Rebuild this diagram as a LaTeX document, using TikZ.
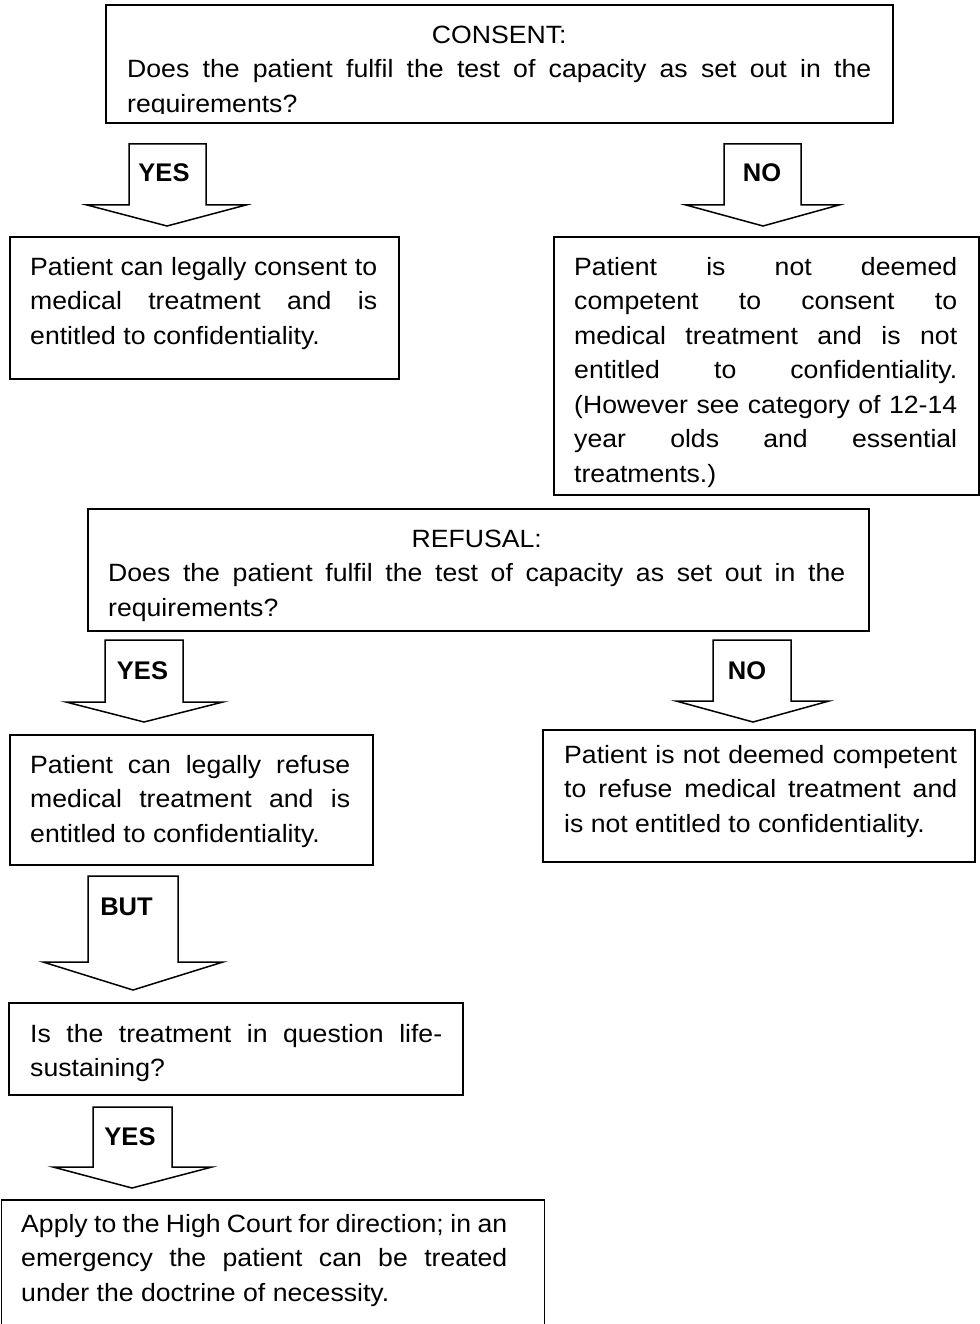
\documentclass[tikz,border=0pt]{standalone}
\usepackage{fontspec}
\setmainfont{Liberation Sans}[FakeStretch=1.065, Ligatures=NoCommon]
\newfontfamily\lblfont{Liberation Sans}[Ligatures=NoCommon]
\usetikzlibrary{calc}
\newcommand\Jl[2]{\makebox[#1pt][s]{#2}}
\newcommand\Cl[2]{\makebox[#1pt][c]{#2}}
\newcommand\Ll[2]{\makebox[#1pt][l]{#2}}
\tikzset{
  frame/.style={draw=black, line width=1.8pt, rectangle, inner sep=0pt, anchor=north west},
  body/.style={inner sep=0pt, anchor=north west, align=left, font=\fontsize{25}{34.5}\selectfont},
  barrow/.style={draw=black, line width=1.5pt, fill=white, line join=miter},
  blabel/.style={inner sep=0pt, anchor=base, font=\lblfont\fontsize{25.5}{30}\selectfont\bfseries},
}
\newcommand\blockarrow[8]{% sL sR top sb wL wR tipx tipy
  \draw[barrow] (#1,#3) -- (#2,#3) -- (#2,#4) -- (#6,#4) -- (#7,#8) -- (#5,#4) -- (#1,#4) -- cycle;}
\begin{document}
\begin{tikzpicture}[x=1pt,y=-1pt]
\useasboundingbox (0,0) rectangle (979,1324);
\fill[white] (0,0) rectangle (979,1324);

% ---------- CONSENT ----------
\node[frame, minimum width=787pt, minimum height=118pt] (b1) at (105,4) {};
\begin{scope}
\clip (105,4) rectangle (892,114);
\node[body] (b1t) at ($(b1.north west)+(22,14.85)$) {%
\Cl{744}{\strut CONSENT:}\\
\Jl{744}{Does the patient fulfil the test of capacity as set out in the}\\
\Ll{744}{requirements?}};
\end{scope}

\blockarrow{129}{206}{144}{205}{87}{246}{167}{226}
\node[blabel] (yes1) at (164,182) {YES};
\blockarrow{724}{801}{144}{205}{686}{839}{763}{226}
\node[blabel] (no1) at (762,182) {NO};

\node[frame, minimum width=389pt, minimum height=142pt] (b2) at (9,236) {};
\node[body] (b2t) at ($(b2.north west)+(21,14.85)$) {%
\Jl{347}{\strut Patient can legally consent to}\\
\Jl{347}{medical treatment and is}\\
\Ll{347}{entitled to confidentiality.}};

\node[frame, minimum width=425pt, minimum height=258pt] (b3) at (553,236) {};
\node[body] (b3t) at ($(b3.north west)+(21,14.85)$) {%
\Jl{383}{\strut Patient is not deemed}\\
\Jl{383}{competent to consent to}\\
\Jl{383}{medical treatment and is not}\\
\Jl{383}{entitled to confidentiality.}\\
\Jl{383}{(However see category of 12-14}\\
\Jl{383}{year olds and essential}\\
\Ll{383}{treatments.)}};

% ---------- REFUSAL ----------
\node[frame, minimum width=781pt, minimum height=122pt] (b4) at (87,508) {};
\node[body] (b4t) at ($(b4.north west)+(21,14.85)$) {%
\Cl{737}{\strut REFUSAL:}\\
\Jl{737}{Does the patient fulfil the test of capacity as set out in the}\\
\Ll{737}{requirements?}};

\blockarrow{105}{183}{640}{702}{66}{223}{144}{722}
\node[blabel] (yes2) at (142.5,679) {YES};
\blockarrow{713}{791}{640}{701}{676}{829}{753}{722}
\node[blabel] (no2) at (747,679) {NO};

\node[frame, minimum width=363pt, minimum height=130pt] (b5) at (9,734) {};
\node[body] (b5t) at ($(b5.north west)+(21,14.85)$) {%
\Jl{320}{\strut Patient can legally refuse}\\
\Jl{320}{medical treatment and is}\\
\Ll{320}{entitled to confidentiality.}};

\node[frame, minimum width=432pt, minimum height=132pt] (b6) at (542,729) {};
\node[body] (b6t) at ($(b6.north west)+(22,9.85)$) {%
\Jl{393}{\strut Patient is not deemed competent}\\
\Jl{393}{to refuse medical treatment and}\\
\Ll{393}{is not entitled to confidentiality.}};

\blockarrow{88}{178}{876}{962}{43}{223}{133}{990}
\node[blabel] (but) at (126.5,915) {BUT};

\node[frame, minimum width=454pt, minimum height=92pt] (b7) at (8,1002) {};
\node[body] (b7t) at ($(b7.north west)+(22,15.85)$) {%
\Jl{412}{\strut Is the treatment in question life-}\\
\Ll{412}{sustaining?}};

\blockarrow{93}{172}{1107}{1167}{53}{212}{132}{1188}
\node[blabel] (yes3) at (130,1145) {YES};

\node[frame, minimum width=543pt, minimum height=200pt] (b8) at (0.6,1199) {};
\node[body] (b8t) at ($(b8.north west)+(20.4,8.85)$) {%
\Jl{486}{\strut Apply to the High Court for direction; in an}\\
\Jl{486}{emergency the patient can be treated}\\
\Ll{486}{under the doctrine of necessity.}};
\end{tikzpicture}
\end{document}
